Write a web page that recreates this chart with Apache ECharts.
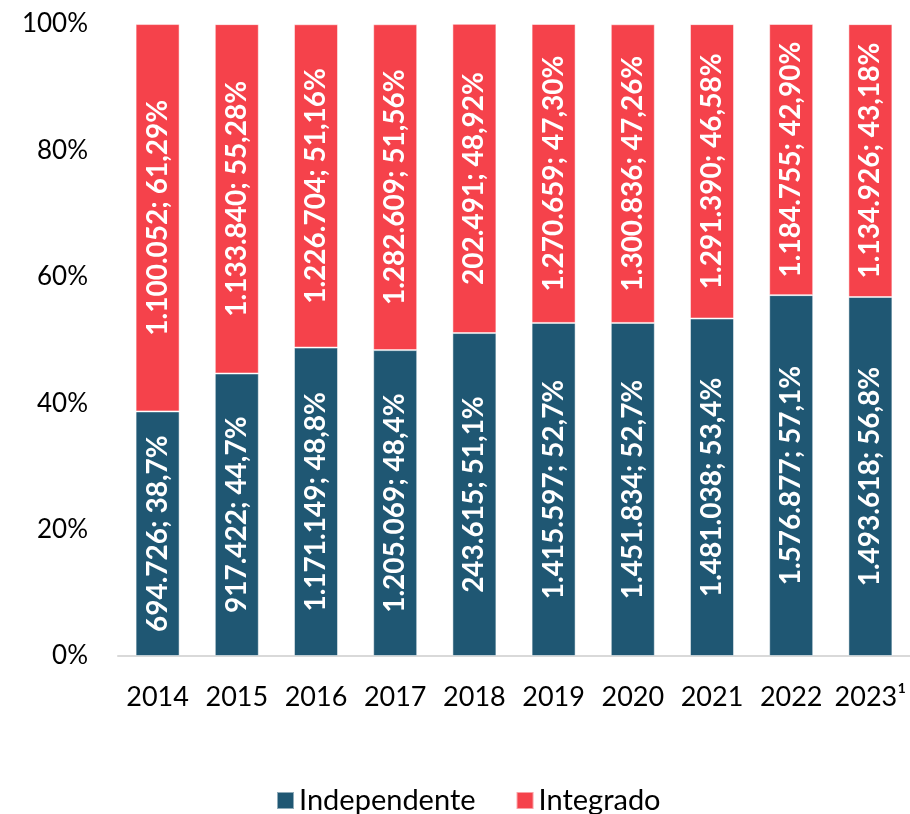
<!DOCTYPE html>
<html>
<head>
<meta charset="utf-8">
<script src="https://cdn.jsdelivr.net/npm/echarts@6/dist/echarts.min.js"></script>
<style>
  html, body { margin: 0; padding: 0; background: #fff; }
  #chart { width: 910px; height: 814px; }
</style>
</head>
<body>
<div id="chart"></div>
<script>
let years = ['2014', '2015', '2016', '2017', '2018', '2019', '2020', '2021', '2022', '2023¹']

let indepValues = [694726, 917422, 1171149, 1205069, 243615, 1415597, 1451834, 1481038, 1576877, 1493618]
let indepShare = [38.7, 44.7, 48.8, 48.4, 51.1, 52.7, 52.7, 53.4, 57.1, 56.8]

let integValues = [1100052, 1133840, 1226704, 1282609, 202491, 1270659, 1300836, 1291390, 1184755, 1134926]
let integShare = [61.29, 55.28, 51.16, 51.56, 48.92, 47.30, 47.26, 46.58, 42.90, 43.18]

let colorPalette = ['#1F5773', '#F5424B']

function fmtInt(n) {
  return String(n).replace(/\B(?=(\d{3})+(?!\d))/g, '.')
}

function fmtPct(p, digits) {
  return p.toFixed(digits).replace('.', ',') + '%'
}

let barLabel = {
  show: true,
  position: 'inside',
  rotate: 90,
  color: '#fff',
  fontFamily: 'Lato',
  fontWeight: 'bold',
  fontSize: 28
}

let option = {
  animation: false,
  grid: { left: 118, right: 0, top: 24, bottom: 158, containLabel: false },
  legend: {
    top: 786,
    left: 276,
    padding: 0,
    itemWidth: 17,
    itemHeight: 17,
    itemGap: 40,
    icon: 'rect',
    textStyle: { fontFamily: 'Lato', fontSize: 29, color: '#000' },
    data: ['Independente', 'Integrado']
  },
  xAxis: {
    type: 'category',
    data: years,
    axisTick: { show: false },
    axisLine: { lineStyle: { color: '#d9d9d9', width: 2 } },
    axisLabel: { interval: 0, color: '#000', fontFamily: 'Lato', fontSize: 27, margin: 28 }
  },
  yAxis: {
    type: 'value',
    min: 0,
    max: 100,
    interval: 20,
    splitLine: { show: false },
    axisLine: { show: false },
    axisLabel: { color: '#000', fontFamily: 'Lato', fontSize: 26, margin: 30, formatter: '{value}%' }
  },
  series: [
    {
      name: 'Independente',
      type: 'bar',
      stack: 'total',
      barWidth: 44,
      color: colorPalette[0],
      itemStyle: { borderColor: 'rgba(255,255,255,0.5)', borderWidth: 1 },
      data: indepShare,
      label: Object.assign({}, barLabel, {
        formatter: (params) => `${fmtInt(indepValues[params.dataIndex])}; ${fmtPct(indepShare[params.dataIndex], 1)}`
      })
    },
    {
      name: 'Integrado',
      type: 'bar',
      stack: 'total',
      barWidth: 44,
      color: colorPalette[1],
      itemStyle: { borderColor: 'rgba(255,255,255,0.5)', borderWidth: 1 },
      data: integShare,
      label: Object.assign({}, barLabel, {
        formatter: (params) => `${fmtInt(integValues[params.dataIndex])}; ${fmtPct(integShare[params.dataIndex], 2)}`
      })
    }
  ]
}

let chart = echarts.init(document.getElementById('chart'))
chart.setOption(option)
</script>
</body>
</html>
